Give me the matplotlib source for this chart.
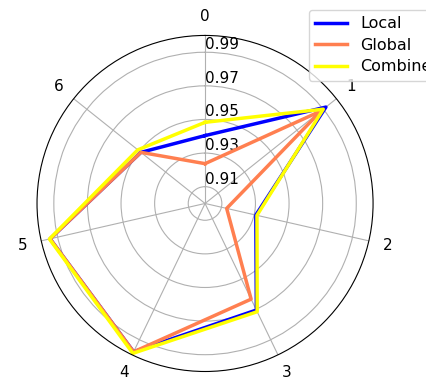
import numpy as np
import matplotlib
matplotlib.use("Agg")
import matplotlib.pyplot as plt

categories = ["0", "1", "2", "3", "4", "5", "6"]
local = [0.9404, 0.992, 0.931, 0.9704, 0.998, 0.9946, 0.9488]
global_ = [0.9237, 0.9883, 0.9132, 0.9632, 0.998, 0.9946, 0.9488]
combined = [0.9483, 0.990, 0.9317, 0.9715, 0.999, 0.995, 0.9512]
rticks = [0.91, 0.93, 0.95, 0.97, 0.99]

n = len(categories)
angles = np.linspace(0, 2 * np.pi, n, endpoint=False).tolist()
angles += angles[:1]

fig = plt.figure(figsize=(4.27, 3.85), dpi=100)
ax = fig.add_axes([0.0867, 0.035, 0.787, 0.873], polar=True)
ax.set_theta_offset(np.pi / 2)
ax.set_theta_direction(-1)

for vals, lab, col in [(local, "Local", "blue"),
                       (global_, "Global", "coral"),
                       (combined, "Combined", "yellow")]:
    ax.plot(angles, vals + vals[:1], color=col, linewidth=2.5, label=lab)

ax.set_xticks(angles[:-1])
ax.set_xticklabels(categories, fontsize=11)
ax.set_ylim(0.9, 1.0)
ax.set_rgrids(rticks, labels=[str(t) for t in rticks], angle=0, fontsize=11)
ax.grid(color="#b0b0b0")

fig.legend(loc="upper left", bbox_to_anchor=(301 / 427, 1 - 2 / 385),
           fontsize=11.5, labelspacing=0.4)
fig.savefig("out.png", dpi=100)
